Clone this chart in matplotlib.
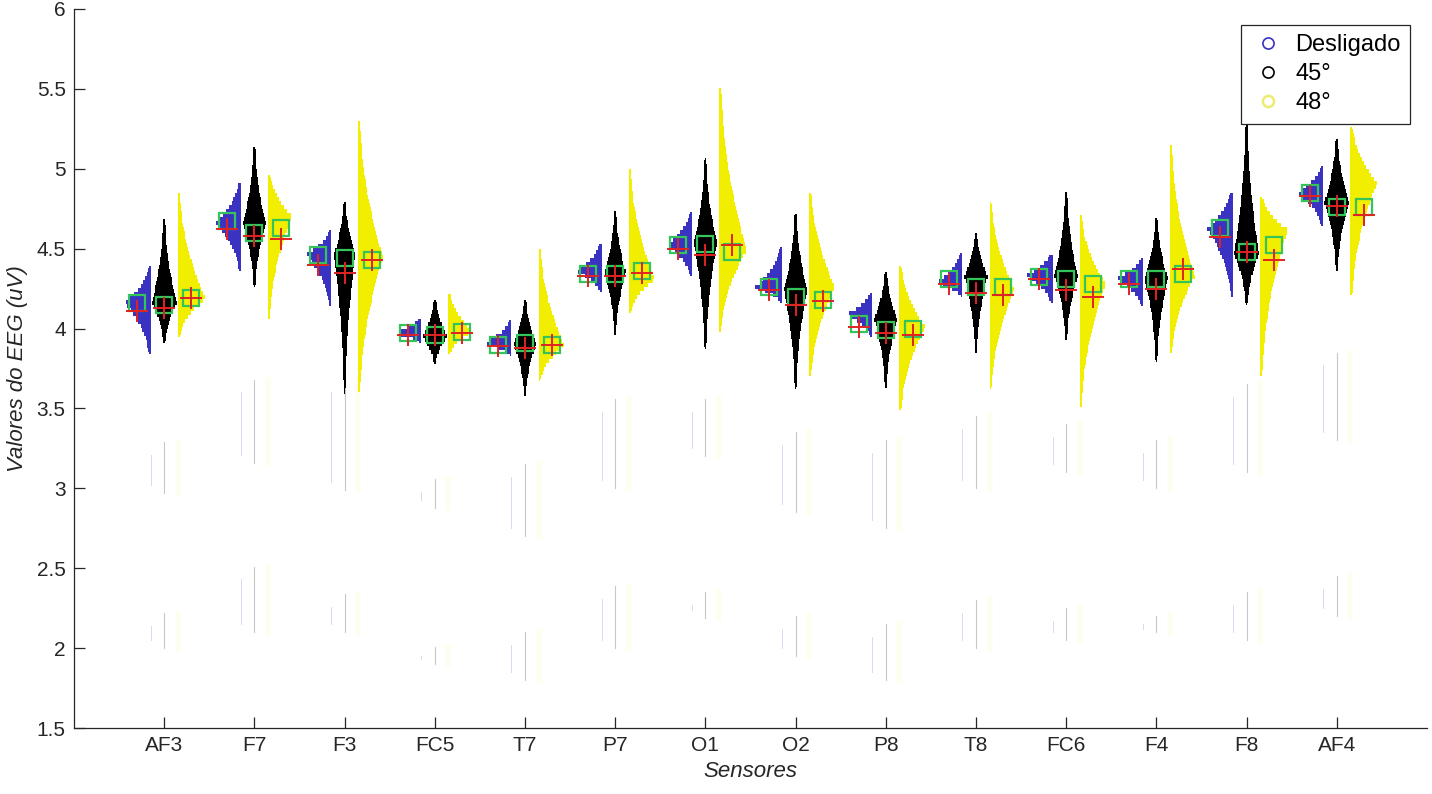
import numpy as np
import matplotlib
matplotlib.use("Agg")
import matplotlib.pyplot as plt
from matplotlib.lines import Line2D

plt.rcParams['font.family'] = ['Liberation Sans', 'DejaVu Sans']

# --- data
sensors = ['AF3', 'F7', 'F3', 'FC5', 'T7', 'P7', 'O1', 'O2', 'P8', 'T8', 'FC6', 'F4', 'F8', 'AF4']

# Desligado (blue, left half)
off_lo = [3.84, 4.36, 4.14, 3.91, 3.83, 4.23, 4.33, 4.16, 3.95, 4.20, 4.16, 4.14, 4.20, 4.64]
off_peak = [4.16, 4.66, 4.46, 3.97, 3.91, 4.36, 4.52, 4.26, 4.09, 4.29, 4.33, 4.31, 4.63, 4.85]
off_hi = [4.39, 4.93, 4.62, 4.07, 4.06, 4.54, 4.74, 4.51, 4.23, 4.49, 4.48, 4.44, 4.87, 5.02]
off_width = [0.29, 0.28, 0.28, 0.32, 0.30, 0.28, 0.28, 0.30, 0.30, 0.29, 0.30, 0.30, 0.29, 0.30]
off_mean = [4.16, 4.67, 4.46, 3.97, 3.90, 4.34, 4.52, 4.26, 4.03, 4.31, 4.32, 4.31, 4.63, 4.85]
off_median = [4.11, 4.62, 4.40, 3.96, 3.89, 4.33, 4.50, 4.24, 4.01, 4.28, 4.31, 4.28, 4.57, 4.83]

# 45 degrees (black, full)
d45_lo = [3.91, 4.26, 3.59, 3.78, 3.58, 3.96, 3.87, 3.62, 3.63, 3.85, 3.93, 3.79, 4.15, 4.36]
d45_peak = [4.16, 4.65, 4.46, 3.95, 3.91, 4.35, 4.53, 4.24, 4.06, 4.33, 4.33, 4.31, 4.47, 4.79]
d45_hi = [4.69, 5.15, 4.81, 4.20, 4.20, 4.74, 5.07, 4.73, 4.37, 4.62, 4.87, 4.71, 5.30, 5.20]
d45_width = [0.14, 0.13, 0.12, 0.14, 0.13, 0.12, 0.13, 0.13, 0.13, 0.13, 0.13, 0.13, 0.14, 0.14]
d45_mean = [4.15, 4.60, 4.44, 3.96, 3.91, 4.34, 4.53, 4.20, 3.99, 4.26, 4.31, 4.31, 4.48, 4.76]
d45_median = [4.13, 4.58, 4.35, 3.96, 3.88, 4.33, 4.46, 4.15, 3.97, 4.22, 4.24, 4.25, 4.48, 4.77]

# 48 degrees (yellow, right half)
d48_lo = [3.95, 4.06, 3.60, 3.84, 3.67, 4.10, 3.98, 3.70, 3.49, 3.62, 3.51, 3.85, 3.70, 4.21]
d48_peak = [4.19, 4.70, 4.45, 3.98, 3.89, 4.31, 4.49, 4.26, 4.01, 4.24, 4.28, 4.33, 4.62, 4.91]
d48_hi = [4.85, 4.98, 5.30, 4.23, 4.51, 5.00, 5.52, 4.87, 4.40, 4.80, 4.71, 5.15, 4.83, 5.27]
d48_width = [0.31, 0.27, 0.28, 0.27, 0.29, 0.29, 0.31, 0.29, 0.29, 0.28, 0.29, 0.28, 0.31, 0.30]
d48_mean = [4.19, 4.63, 4.43, 3.98, 3.90, 4.36, 4.48, 4.18, 4.00, 4.26, 4.28, 4.34, 4.52, 4.76]
d48_median = [4.19, 4.56, 4.43, 3.97, 3.90, 4.35, 4.52, 4.17, 3.96, 4.21, 4.20, 4.37, 4.43, 4.71]

# faint low-value tails
tail_up_lo = [2.97, 3.16, 2.99, 2.88, 2.70, 3.00, 3.20, 2.85, 2.75, 3.00, 3.10, 3.00, 3.10, 3.30]
tail_up_hi = [3.29, 3.68, 3.68, 3.06, 3.15, 3.56, 3.56, 3.35, 3.30, 3.45, 3.40, 3.30, 3.65, 3.85]
tail_dn_lo = [2.00, 2.10, 2.10, 1.90, 1.80, 2.00, 2.19, 1.95, 1.80, 2.00, 2.05, 2.10, 2.05, 2.20]
tail_dn_hi = [2.22, 2.51, 2.34, 2.01, 2.10, 2.39, 2.35, 2.20, 2.15, 2.30, 2.25, 2.20, 2.35, 2.45]

BLUE = '#3a32c0'
BLACK = '#000000'
YELLOW = '#f2ee00'
GREEN = '#35c45a'
RED = '#e02222'
GREY = '#262626'

# histogram-ish outline (relative distance from peak -> relative width)
SHAPE_D = [0, 0.1, 0.25, 0.45, 0.7, 1.0]
SHAPE_W = [1, 0.82, 0.62, 0.38, 0.18, 0.07]


def profile(lo, pk, hi, w):
    y = np.arange(lo, hi + 0.001, 0.025)
    d = np.where(y < pk, (pk - y) / max(pk - lo, 1e-3), (y - pk) / max(hi - pk, 1e-3))
    return y, w * np.interp(d, SHAPE_D, SHAPE_W)


fig = plt.figure(figsize=(14.32, 7.94), dpi=100)
ax = fig.add_axes([0.0517, 0.0831, 0.9448, 0.9056])

x = np.arange(1, len(sensors) + 1)

for i, xi in enumerate(x):
    # faint tails
    for lo_, hi_ in [(tail_up_lo[i], tail_up_hi[i]), (tail_dn_lo[i], tail_dn_hi[i])]:
        ax.plot([xi - 0.15, xi - 0.15], [lo_ + 0.05, hi_ - 0.08], color=BLUE, lw=0.7, alpha=0.18)
        ax.plot([xi, xi], [lo_, hi_], color=BLACK, lw=0.8, alpha=0.22)
        ax.plot([xi + 0.15, xi + 0.15], [lo_, hi_], color=YELLOW, lw=4, alpha=0.06)

    # blue: left half
    y, w = profile(off_lo[i], off_peak[i], off_hi[i], off_width[i])
    ax.fill_betweenx(y, xi - 0.15 - w, xi - 0.15, step='mid', color=BLUE, lw=0)
    # black: full
    y, w = profile(d45_lo[i], d45_peak[i], d45_hi[i], d45_width[i])
    ax.fill_betweenx(y, xi - w, xi + w, step='mid', color=BLACK, lw=0)
    # yellow: right half
    y, w = profile(d48_lo[i], d48_peak[i], d48_hi[i], d48_width[i])
    ax.fill_betweenx(y, xi + 0.15, xi + 0.15 + w, step='mid', color=YELLOW, lw=0)

# mean (square) and median (cross)
for offs, means, medians in [(-0.30, off_mean, off_median), (0.0, d45_mean, d45_median),
                             (0.30, d48_mean, d48_median)]:
    ax.plot(x + offs, means, 's', ms=11.5, mfc='none', mec=GREEN, mew=1.6, zorder=5)
    ax.plot(x + offs, medians, '+', ms=16, color=RED, mew=1.4, zorder=6)

ax.set_xlim(0, 15)
ax.set_ylim(1.5, 6)
ax.set_xticks(x)
ax.set_xticklabels(sensors)
ax.set_yticks(np.arange(1.5, 6.01, 0.5))
ax.set_yticklabels(['%g' % v for v in np.arange(1.5, 6.01, 0.5)])
ax.tick_params(direction='in', length=8, width=0.9, labelsize=15, colors=GREY, pad=6)
ax.spines['top'].set_visible(False)
ax.spines['right'].set_visible(False)
for s in ['left', 'bottom']:
    ax.spines[s].set_color(GREY)
    ax.spines[s].set_linewidth(0.9)

ax.set_xlabel('Sensores', fontsize=16, style='italic', color=GREY, labelpad=4)
ax.set_ylabel('Valores do EEG (uV)', fontsize=16, style='italic', color=GREY, labelpad=6)

handles = [Line2D([], [], ls='none', marker='o', ms=8, mfc='none', mec=BLUE, mew=1.2),
           Line2D([], [], ls='none', marker='o', ms=8, mfc='none', mec=BLACK, mew=1.2),
           Line2D([], [], ls='none', marker='o', ms=8, mfc='none', mec='#ecec70', mew=1.8)]
leg = ax.legend(handles, ['Desligado', '45°', '48°'], loc='upper right',
                bbox_to_anchor=(0.9874, 0.978), borderaxespad=0, fontsize=17,
                fancybox=False, framealpha=1, edgecolor=GREY, handletextpad=0.4,
                handlelength=1.5, labelspacing=0.3, borderpad=0.4)
leg.get_frame().set_linewidth(0.9)

fig.savefig('out.png', dpi=100)
